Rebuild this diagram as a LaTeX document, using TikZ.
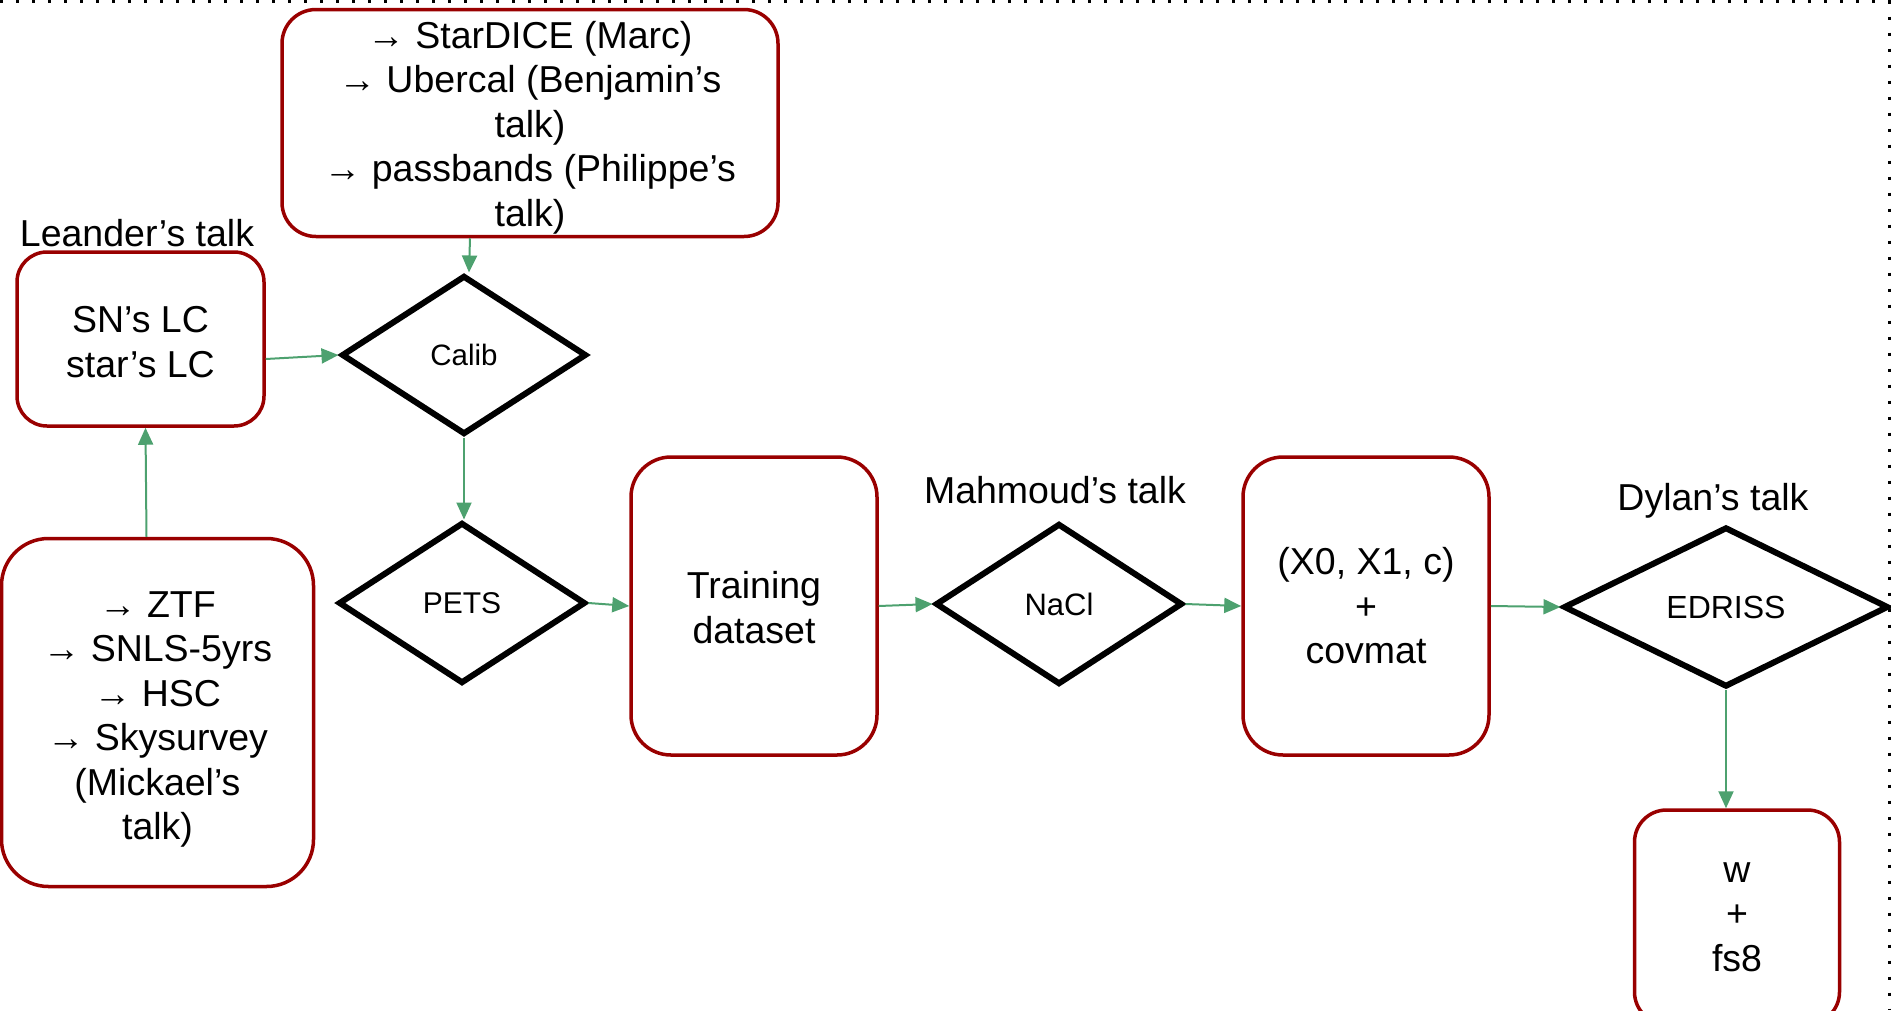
\documentclass[tikz,border=0pt]{standalone}
\usepackage{fontspec}
\setmainfont{Liberation Sans}
\usetikzlibrary{shapes.geometric,arrows.meta}
\definecolor{boxred}{RGB}{153,0,0}
\definecolor{arrgreen}{RGB}{77,161,111}
\begin{document}
\begin{tikzpicture}[x=1pt,y=-1pt,
  box/.style={draw=boxred,line width=3.5pt,rectangle,inner sep=0pt,align=center,font=\fontsize{37.5}{44.5}\selectfont},
  dec/.style={draw=black,line width=6pt,diamond,inner sep=0pt},
  lab/.style={anchor=base,font=\fontsize{37.5}{44}\selectfont,inner sep=0pt},
  conn/.style={draw=arrgreen,line width=2pt,-{Triangle[length=17pt,width=15pt]}}
]
\useasboundingbox (0,0) rectangle (1891,1010);
\clip (0,0) rectangle (1891,1010);
\draw[line width=3pt, dash pattern=on 3pt off 13pt] (0,1.5) -- (1889,1.5) -- (1889,1010);

\node[box,minimum width=496pt,minimum height=227pt,rounded corners=34pt] (top) at (530,123)
  {\rule{0pt}{36pt}→ StarDICE (Marc)\\→ Ubercal (Benjamin’s\\talk)\\→ passbands (Philippe’s\\talk)};
\node[box,minimum width=247pt,minimum height=174pt,rounded corners=30pt] (lc) at (140.5,339)
  {\rule{0pt}{32pt}SN’s LC\\star’s LC};
\node[box,minimum width=312pt,minimum height=348pt,rounded corners=47pt] (ztf) at (157.5,712.5)
  {\rule{0pt}{40pt}→ ZTF\\→ SNLS-5yrs\\→ HSC\\→ Skysurvey\\(Mickael’s\\talk)};
\node[box,minimum width=246pt,minimum height=298pt,rounded corners=40pt] (train) at (754,606)
  {\rule{0pt}{30pt}Training\\dataset};
\node[box,minimum width=246pt,minimum height=298pt,rounded corners=40pt] (x0) at (1366,606)
  {(X0, X1, c)\\+\\covmat};
\node[box,minimum width=205pt,minimum height=214pt,rounded corners=32pt] (w) at (1737,917)
  {w\\+\\fs8};

\node[dec,minimum width=245pt,minimum height=159pt,font=\fontsize{29.5}{34}\selectfont] (calib) at (464,355) {Calib};
\node[dec,minimum width=247pt,minimum height=161pt,font=\fontsize{30}{34}\selectfont] (pets) at (462,603) {PETS};
\node[dec,minimum width=247pt,minimum height=161pt,font=\fontsize{31}{34}\selectfont] (nacl) at (1059,604) {\raisebox{-3pt}{NaCl}};
\node[dec,minimum width=325pt,minimum height=160pt,font=\fontsize{32}{34}\selectfont] (edriss) at (1726,607) {\raisebox{-4pt}{EDRISS}};

\node[lab] (llab) at (137,246) {Leander’s talk};
\node[lab] (mlab) at (1055,503) {Mahmoud’s talk};
\node[lab] (dlab) at (1713,510) {Dylan’s talk};

\draw[conn] ([xshift=6pt]top.south -| calib.north) -- ([xshift=5pt]calib.north);
\draw[conn] ([yshift=-20pt]lc.east) -- (calib.west);
\draw[conn] (calib.south) -- (calib.south |- pets.north);
\draw[conn] ([xshift=-11pt]ztf.north) -- ([xshift=5pt]lc.south);
\draw[conn] (pets.east) -- (train.west);
\draw[conn] (train.east) -- (nacl.west);
\draw[conn] (nacl.east) -- (x0.west);
\draw[conn] (x0.east) -- (edriss.west);
\draw[conn] (edriss.south) -- (edriss.south |- w.north);
\end{tikzpicture}
\end{document}
